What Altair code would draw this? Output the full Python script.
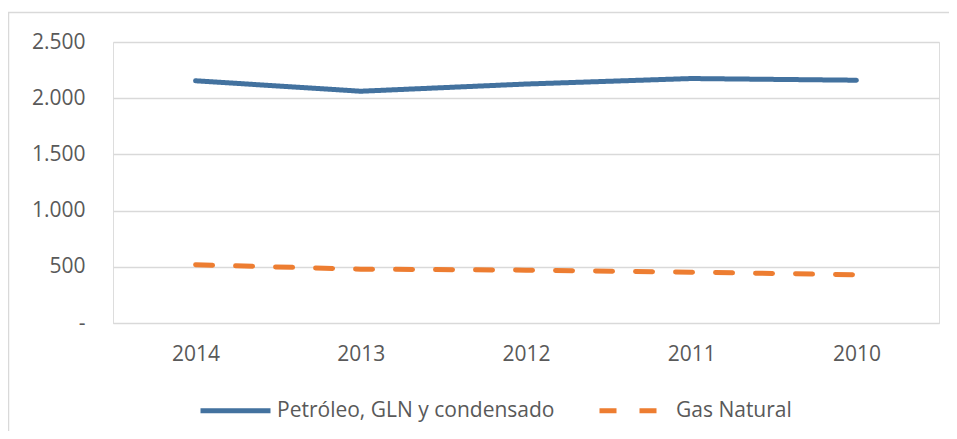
import altair as alt
import pandas as pd

years = ["2014", "2013", "2012", "2011", "2010"]
oil = [2155, 2062, 2126, 2175, 2160]
gas = [518, 479, 470, 452, 429]
series = ["Petróleo, GLN y condensado", "Gas Natural"]
y_ticks = [0, 500, 1000, 1500, 2000, 2500]

rows = []
for y, v in zip(years, oil):
    rows.append({"year": y, "value": v, "serie": series[0]})
for y, v in zip(years, gas):
    rows.append({"year": y, "value": v, "serie": series[1]})
df = pd.DataFrame(rows)

FONT = "Open Sans"
TXT = "#595959"
GRID = "#D9D9D9"

leg = dict(title=None, orient="none", legendX=85, legendY=331,
           direction="horizontal", symbolType="stroke",
           symbolSize=4900, symbolStrokeWidth=5, labelLimit=0,
           labelFont=FONT, labelFontSize=21, labelColor=TXT,
           labelOffset=4, columnPadding=34, symbolOffset=0)

lines = alt.Chart(df).mark_line(strokeWidth=5, strokeCap="round", strokeJoin="round").encode(
    x=alt.X("year:O", sort=years, title=None,
            scale=alt.Scale(type="point", padding=0.5),
            axis=alt.Axis(labelAngle=0, ticks=False, domain=True, domainColor=GRID,
                          labelFont=FONT, labelFontSize=21, labelColor=TXT,
                          labelPadding=20, grid=False)),
    y=alt.Y("value:Q", title=None, scale=alt.Scale(domain=[0, 2500], nice=False),
            axis=alt.Axis(values=y_ticks, ticks=False, domain=False, grid=True,
                          gridColor=GRID, gridWidth=1.5,
                          labelFont=FONT, labelFontSize=21, labelColor=TXT, labelPadding=28,
                          labelExpr="datum.value == 0 ? '-\u00a0\u00a0' : replace(format(datum.value, ','), ',', '.')")),
    color=alt.Color("serie:N", sort=series,
                    scale=alt.Scale(domain=series, range=["#43729F", "#ED7D31"]),
                    legend=alt.Legend(**leg)),
    strokeDash=alt.StrokeDash("serie:N", sort=series,
                              scale=alt.Scale(domain=series, range=[[1, 0], [17, 23]]),
                              legend=alt.Legend(**leg)),
)

frame = alt.Chart(pd.DataFrame({"a": [0]})).mark_rect(fill=None, stroke=GRID, strokeWidth=1.5).encode(
    x=alt.value(-104.5), x2=alt.value(900), y=alt.value(-29.5), y2=alt.value(600)
)

chart = alt.layer(frame, lines).properties(
    width=826, height=281,
    autosize=alt.AutoSizeParams(type="none"),
    padding={"left": 105, "top": 34, "right": 10, "bottom": 108},
).configure_view(stroke=None).configure(background="white")

chart.save("out.html", embed_options={"renderer": "svg", "actions": False})
